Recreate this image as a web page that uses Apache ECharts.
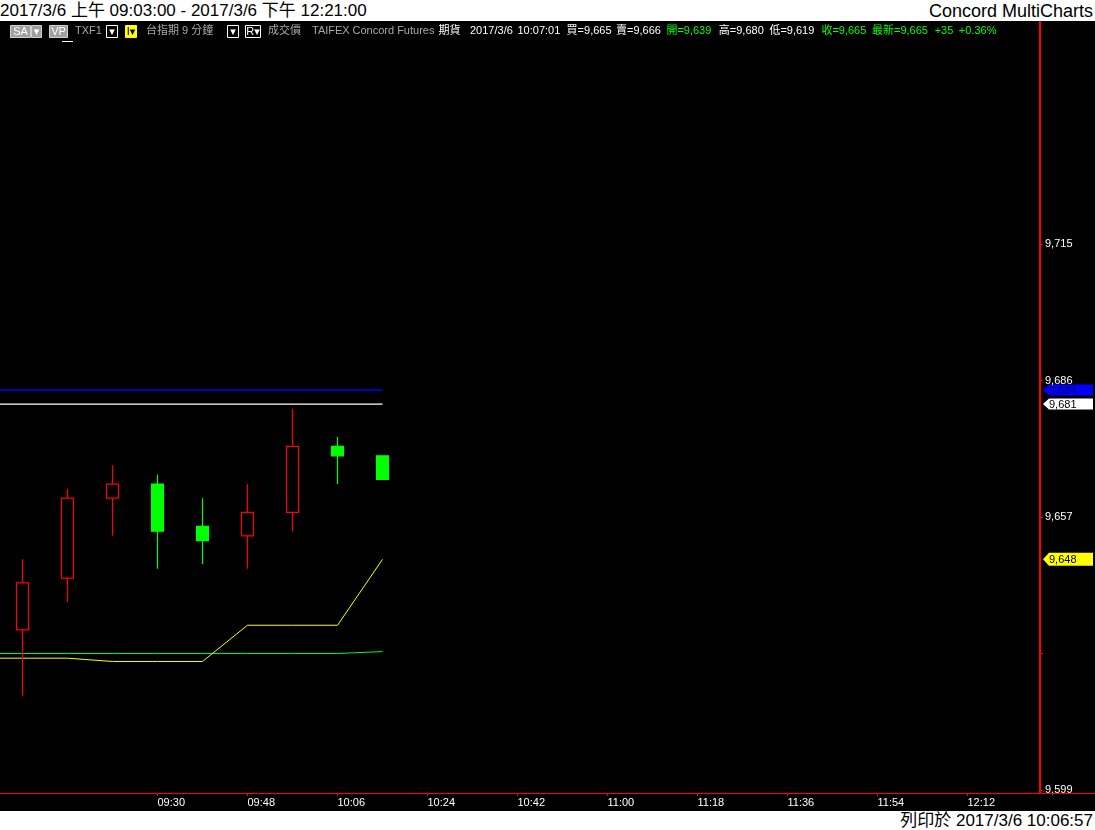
<!DOCTYPE html>
<html><head><meta charset="utf-8">
<script src="https://cdn.jsdelivr.net/npm/echarts@6/dist/echarts.min.js"></script>
<style>
html,body{margin:0;padding:0;background:#fff;width:1095px;height:830px;overflow:hidden;font-family:"Liberation Sans","Noto Sans CJK TC",sans-serif;}
#title{position:absolute;left:0;top:0;height:21px;line-height:22px;font-size:17px;color:#000;white-space:nowrap;}
#brand{position:absolute;right:2px;top:0;height:21px;line-height:22px;font-size:18px;color:#000;white-space:nowrap;}
#printed{position:absolute;right:2px;top:811px;height:19px;line-height:20px;font-size:17px;color:#000;white-space:nowrap;}
#chart{position:absolute;left:0;top:21px;width:1095px;height:790px;background:#000;}
</style></head><body>
<div id="title">2017/3/6 上午 09:03:00 - 2017/3/6 下午 12:21:00</div>
<div id="brand">Concord MultiCharts</div>
<div id="chart"></div>
<div id="printed">列印於 2017/3/6 10:06:57</div>
<script>
// ---- data (9-minute bars, TXF1) ----
const times = ['08:54','09:03','09:12','09:21','09:30','09:39','09:48','09:57','10:06','10:15',
               '10:24','10:33','10:42','10:51','11:00','11:09','11:18','11:27','11:36','11:45',
               '11:54','12:03','12:12','12:21'];
const opens  = [null, 9633, 9644, 9661, 9664, 9655, 9653, 9658, 9672, 9670];
const closes = [null, 9643, 9661, 9664, 9654, 9652, 9658, 9672, 9670, 9665];
const lows   = [null, 9619, 9639, 9653, 9646, 9647, 9646, 9654, 9664, 9665];
const highs  = [null, 9648, 9663, 9668, 9666, 9661, 9664, 9680, 9674, 9670];
const blueLine   = [9684, 9684, 9684, 9684, 9684, 9684, 9684, 9684, 9684, 9684];
const whiteLine  = [9681, 9681, 9681, 9681, 9681, 9681, 9681, 9681, 9681, 9681];
const yellowLine = [9627, 9627, 9627, 9626.3, 9626.3, 9626.3, 9634, 9634, 9634, 9648];
const greenLine  = [9628, 9628, 9628, 9628, 9628, 9628, 9628, 9628, 9628, 9628.4];
const yTickValues  = [9599, 9628, 9657, 9686, 9715];
const yLabelValues = [9599, 9657, 9686, 9715];
const Y_MIN = 9598.35, Y_MAX = 9762.2;

const FONT = '"Liberation Sans","Noto Sans CJK TC","DejaVu Sans",sans-serif';
const fmt = v => Math.round(v).toLocaleString('en-US');
const candleData = opens.map((o, i) => o == null ? '-' : [o, closes[i], lows[i], highs[i]]);
const showIdx = (i) => i >= 4 && i % 2 === 0;

const chart = echarts.init(document.getElementById('chart'), null, {renderer: 'canvas'});

function txt(x, s, color) {
  return {type: 'text', x: x, y: 10, silent: true, z: 100,
    style: {text: s, fill: color, font: '11px ' + FONT, align: 'left', verticalAlign: 'middle'}};
}
function box(x, w, fill, stroke, label, labelColor) {
  return {type: 'group', silent: true, z: 100, children: [
    {type: 'rect', shape: {x: x + 0.5, y: 4.5, width: w, height: 12}, style: {fill: fill, stroke: stroke, lineWidth: 1}},
    {type: 'text', x: x + 0.5 + w / 2, y: 10.5, style: {text: label, fill: labelColor, font: '11px ' + FONT, align: 'center', verticalAlign: 'middle'}}
  ]};
}
const GRAY = '#a8a8a8', GREEN = '#00ff00', WHITE = '#ffffff';
const header = [
  box(10, 20, '#a0a0a0', '#d0d0d0', 'SA', WHITE),
  box(31, 10, '#a0a0a0', '#d0d0d0', '▾', WHITE),
  box(49, 18, '#a0a0a0', '#d0d0d0', 'VP', WHITE),
  {type: 'line', silent: true, z: 100, shape: {x1: 62, y1: 20.5, x2: 73, y2: 20.5}, style: {stroke: WHITE, lineWidth: 1}},
  txt(75, 'TXF1', GRAY),
  box(106, 11, '#000', WHITE, '▾', WHITE),
  box(125, 11, '#ffff00', '#ffff00', 'I▾', '#000'),
  txt(146, '台指期 9 分鐘', GRAY),
  box(227, 11, '#000', WHITE, '▾', WHITE),
  box(245, 15, '#000', WHITE, 'R▾', WHITE),
  txt(268, '成交價', GRAY),
  txt(312, 'TAIFEX', GRAY),
  txt(352.5, 'Concord Futures', GRAY),
  txt(438.5, '期貨', WHITE),
  txt(470, '2017/3/6', WHITE),
  txt(517.5, '10:07:01', WHITE),
  txt(566.6, '買=9,665', WHITE),
  txt(616, '賣=9,666', WHITE),
  txt(666.4, '開=9,639', GREEN),
  txt(718.8, '高=9,680', WHITE),
  txt(769.4, '低=9,619', WHITE),
  txt(821.4, '收=9,665', GREEN),
  txt(872, '最新=9,665', GREEN),
  txt(934.7, '+35', GREEN),
  txt(958.8, '+0.36%', GREEN),
  // x-axis line continues under the price scale
  {type: 'line', silent: true, z: 1, shape: {x1: 1035, y1: 772.5, x2: 1095, y2: 772.5}, style: {stroke: '#ff0000', lineWidth: 1}}
];

function lineSeries(name, data, color, z, w) {
  return {name: name, type: 'line', data: data, showSymbol: false, symbol: 'none', silent: true,
    lineStyle: {color: color, width: w || 1}, z: z, animation: false};
}

chart.setOption({
  backgroundColor: '#000',
  animation: false,
  grid: {left: -45, right: 60, top: 1, bottom: 18, containLabel: false, outerBoundsMode: 'none'},
  xAxis: {
    type: 'category', data: times, boundaryGap: true,
    axisLine: {show: true, lineStyle: {color: '#ff0000', width: 1}},
    axisTick: {show: true, interval: showIdx, alignWithLabel: true, length: 3, lineStyle: {color: '#ff0000'}},
    axisLabel: {interval: showIdx, color: '#fff', fontSize: 11, fontFamily: FONT, align: 'left', margin: 4},
    splitLine: {show: false}
  },
  yAxis: {
    type: 'value', position: 'right', offset: 5, min: Y_MIN, max: Y_MAX,
    axisLine: {show: true, lineStyle: {color: '#ff0000', width: 2}},
    axisTick: {show: true, customValues: yTickValues, length: 3, lineStyle: {color: '#ff0000'}},
    axisLabel: {customValues: yLabelValues, color: '#fff', fontSize: 11, fontFamily: FONT, margin: 5, formatter: fmt},
    splitLine: {show: false}
  },
  graphic: header,
  series: [
    lineSeries('green', greenLine, '#00ff00', 3),
    lineSeries('yellow', yellowLine, '#ffff00', 3),
    {type: 'candlestick', data: candleData, barWidth: 12, silent: true, z: 4,
      itemStyle: {color: '#000000', color0: '#00ff00', borderColor: '#ff0000', borderColor0: '#00ff00', borderWidth: 1.2}},
    lineSeries('blue', blueLine, '#0000ff', 5, 1.6),
    lineSeries('white', whiteLine, '#ffffff', 5, 1.2)
  ]
});

// value tags on the price scale, positioned through the axis scale
const tags = [
  {v: blueLine[blueLine.length - 1], bg: '#0000ff', fg: '#000060', h: 11},
  {v: whiteLine[whiteLine.length - 1], bg: '#ffffff', fg: '#000000', h: 11},
  {v: yellowLine[yellowLine.length - 1], bg: '#ffff00', fg: '#000000', h: 13}
];
const tagEls = tags.map(t => {
  const y = chart.convertToPixel({yAxisIndex: 0}, t.v);
  const hh = t.h / 2;
  return {type: 'group', silent: true, z: 100, children: [
    {type: 'polygon', shape: {points: [[1043, y], [1049, y - hh], [1093, y - hh], [1093, y + hh], [1049, y + hh]]}, style: {fill: t.bg}},
    {type: 'text', x: 1049, y: y + 0.5, style: {text: fmt(t.v), fill: t.fg, font: '11px ' + FONT, align: 'left', verticalAlign: 'middle'}}
  ]};
});
chart.setOption({graphic: header.concat(tagEls)});
</script>
</body></html>
